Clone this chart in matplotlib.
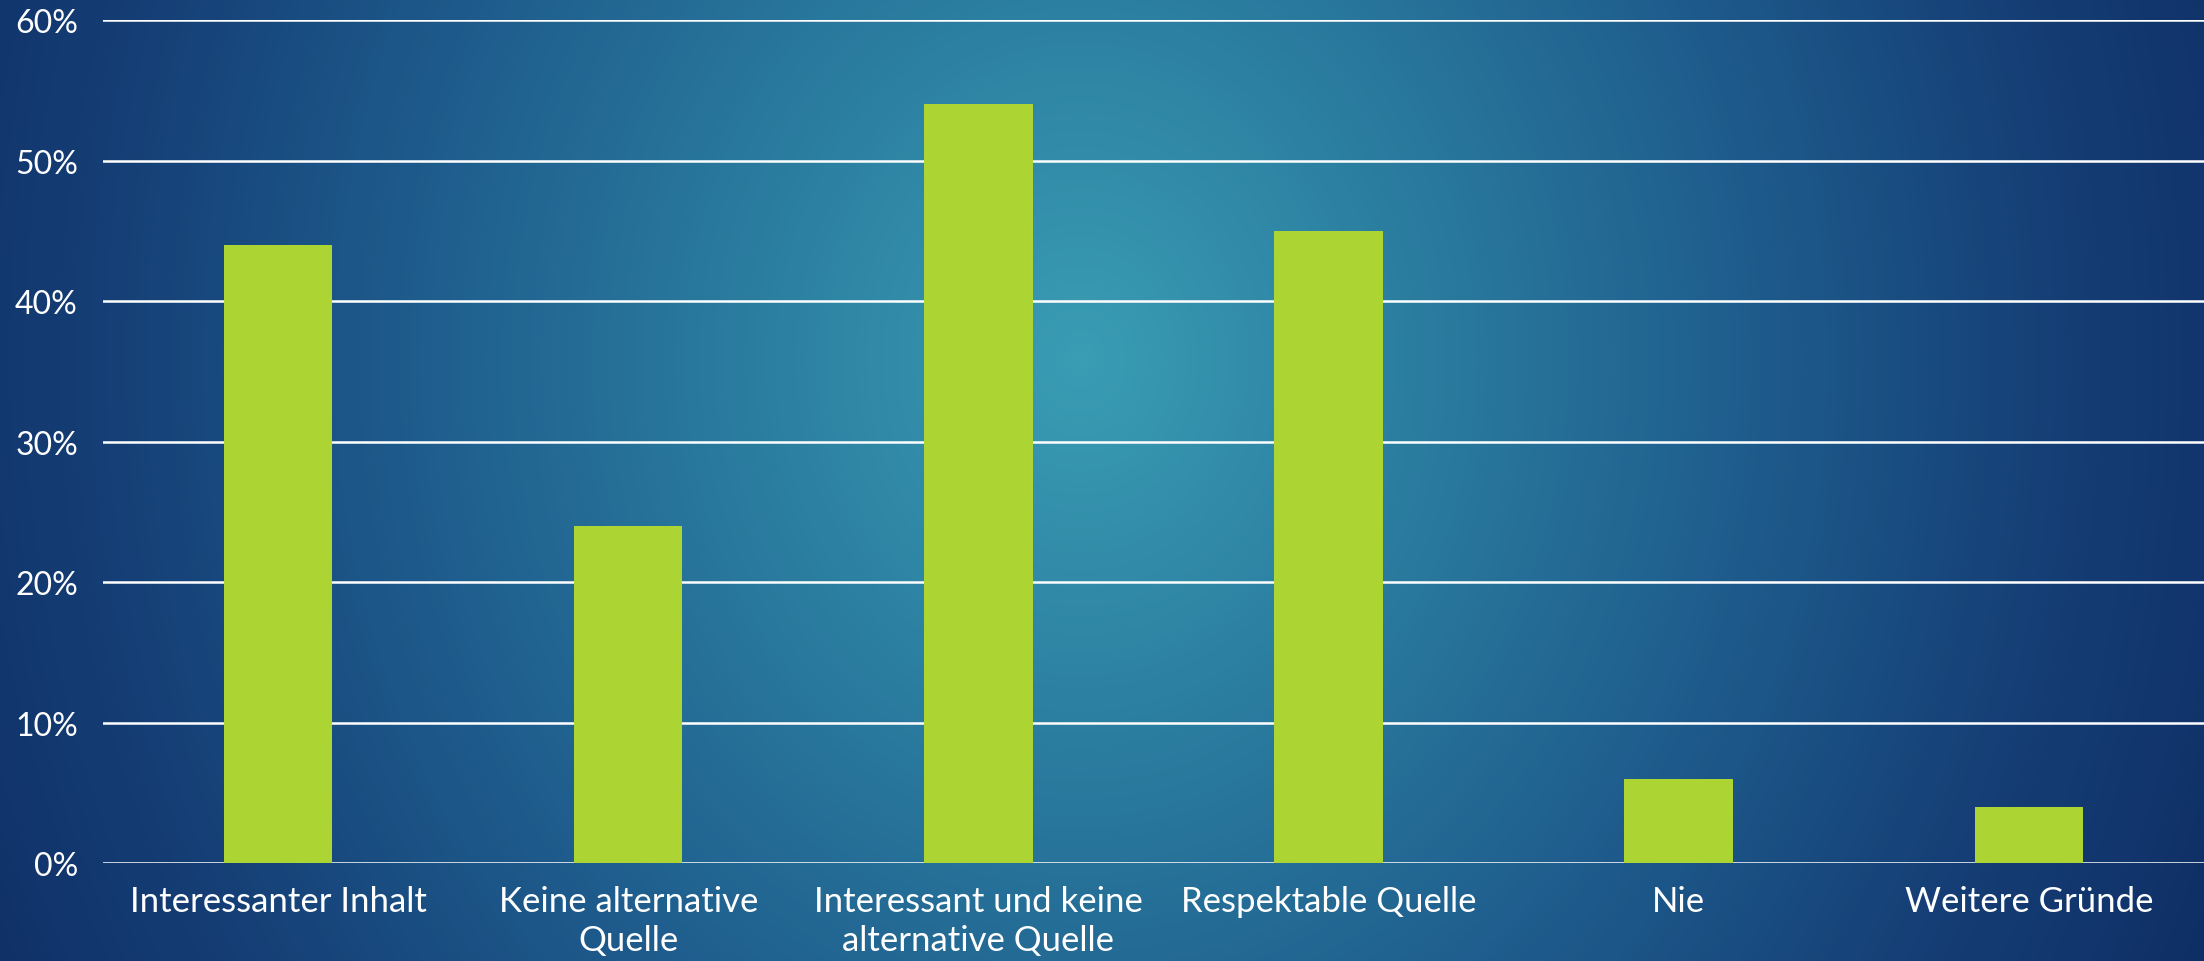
import numpy as np
import matplotlib
matplotlib.use("Agg")
import matplotlib.pyplot as plt
from matplotlib.colors import LinearSegmentedColormap
from matplotlib.ticker import FuncFormatter

categories = ["Interessanter Inhalt", "Keine alternative\nQuelle",
              "Interessant und keine\nalternative Quelle", "Respektable Quelle",
              "Nie", "Weitere Gründe"]
values = [44, 24, 54, 45, 6, 4]
y_ticks = [0, 10, 20, 30, 40, 50, 60]

BAR = "#acd433"
plt.rcParams["font.family"] = ["Lato", "DejaVu Sans"]

fig = plt.figure(figsize=(22.04, 9.62), dpi=100)

# radial blue background
bg = fig.add_axes([0, 0, 1, 1], zorder=0)
w, h = 2204, 962
xx, yy = np.meshgrid(np.arange(w), np.arange(h))
d = np.sqrt(((xx - 1080) / 1300.0) ** 2 + ((yy - 360) / 1500.0) ** 2)
d = np.clip(d, 0, 1)
cmap = LinearSegmentedColormap.from_list(
    "bg", ["#3a9db4", "#2b7ea0", "#1f5e8e", "#153f76", "#0d2b62"])
bg.imshow(d, cmap=cmap, aspect="auto", extent=(0, 1, 0, 1), vmin=0, vmax=1)
bg.axis("off")

ax = fig.add_axes([0.0467, 0.1019, 0.9533, 0.8761], zorder=1)
ax.patch.set_alpha(0)
x = np.arange(len(categories))
ax.bar(x, values, width=0.31, color=BAR, zorder=2)
ax.set_xlim(-0.5, len(categories) - 0.5)
ax.set_ylim(0, 60)
ax.set_yticks(y_ticks)
ax.yaxis.set_major_formatter(FuncFormatter(lambda v, p: f"{v:.0f}%"))
ax.set_xticks(x)
ax.set_xticklabels(categories, color="white", fontsize=25, linespacing=1.25)
ax.tick_params(axis="y", colors="white", labelsize=23, length=0, pad=18)
ax.tick_params(axis="x", length=0, pad=16)
ax.grid(axis="y", color="white", linewidth=1.8, zorder=1)
ax.set_axisbelow(True)
for s in ax.spines.values():
    s.set_visible(False)

fig.savefig("out.png", dpi=100)
